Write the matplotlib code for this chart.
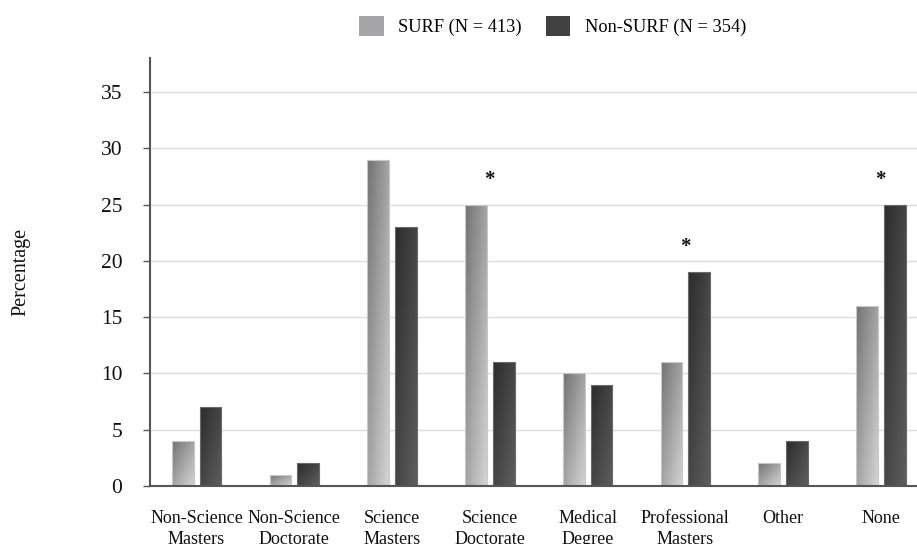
import numpy as np
import matplotlib
matplotlib.use("Agg")
import matplotlib.pyplot as plt
from matplotlib.patches import Patch
from matplotlib.colors import LinearSegmentedColormap

plt.rcParams['font.family'] = ['Liberation Serif', 'DejaVu Serif']

# data
categories = ["Non-Science\nMasters", "Non-Science\nDoctorate", "Science\nMasters",
              "Science\nDoctorate", "Medical\nDegree", "Professional\nMasters",
              "Other", "None"]
surf = [4, 1, 29, 25, 10, 11, 2, 16]
non_surf = [7, 2, 23, 11, 9, 19, 4, 25]
significant = [False, False, False, True, False, True, False, True]
series_labels = ["SURF (N = 413)", "Non-SURF (N = 354)"]

surf_cmap = LinearSegmentedColormap.from_list("surf", ["#727272", "#d4d4d4"])
non_cmap = LinearSegmentedColormap.from_list("non", ["#2c2c2c", "#5e5e5e"])

# diagonal gradient: dark top-left -> light bottom-right
u = np.linspace(0, 1, 40)
v = np.linspace(0, 1, 80)
U, V = np.meshgrid(u, v)
grad = 0.5 * (U + V)  # row 0 is top when origin='upper'


def gradient_bars(ax, bars, cmap):
    for b in bars:
        x0, y0 = b.get_x(), b.get_y()
        w, h = b.get_width(), b.get_height()
        im = ax.imshow(grad, cmap=cmap, extent=[x0, x0 + w, y0, y0 + h],
                       origin='upper', aspect='auto', zorder=3, vmin=0, vmax=1)
        im.set_clip_path(b)


fig = plt.figure(figsize=(9.17, 5.44), dpi=100)
ax = fig.add_axes([0.1636, 0.1066, 0.8364, 0.7864])

x = np.arange(len(categories))
w = 0.223
off = 0.142
b1 = ax.bar(x - off, surf, w, facecolor='none', edgecolor='#c8c8c8', linewidth=0.8, zorder=4)
b2 = ax.bar(x + off, non_surf, w, facecolor='none', edgecolor='#6a6a6a', linewidth=0.8, zorder=4)
gradient_bars(ax, b1, surf_cmap)
gradient_bars(ax, b2, non_cmap)

for i, sig in enumerate(significant):
    if sig:
        top = max(surf[i], non_surf[i])
        ax.text(x[i], top + 2.2, "*", ha='center', va='center', fontsize=15,
                fontweight='bold', color='#111111', zorder=5)

ax.set_xlim(-0.476, 7.37)
ax.set_ylim(0, 38)
ax.set_yticks(range(0, 40, 5))
ax.set_xticks(x)
ax.set_xticklabels(categories, fontsize=13, linespacing=1.35)
ax.tick_params(axis='x', length=0, pad=17, colors='#111111')
ax.tick_params(axis='y', length=5, width=1, color='#555555', pad=15, labelsize=15.5,
               labelcolor='#111111')
ax.grid(axis='y', color='#dcdcdc', linewidth=1, zorder=0)
ax.set_axisbelow(True)
for s in ['top', 'right']:
    ax.spines[s].set_visible(False)
for s in ['left', 'bottom']:
    ax.spines[s].set_color('#555555')
    ax.spines[s].set_linewidth(1.5)
    ax.spines[s].set_zorder(6)

ax.set_ylabel("Percentage", fontsize=14.5, color='#111111')
ax.yaxis.set_label_coords(-0.156, 0.5)

handles = [Patch(facecolor='#a6a6a8', edgecolor='none'),
           Patch(facecolor='#404040', edgecolor='none')]
fig.legend(handles, series_labels, loc='center', bbox_to_anchor=(0.6025, 0.952),
           ncol=2, frameon=False, fontsize=13.2, handlelength=1.35, handleheight=1.35,
           handletextpad=0.8, columnspacing=1.3)

fig.savefig("out.png", dpi=100)
